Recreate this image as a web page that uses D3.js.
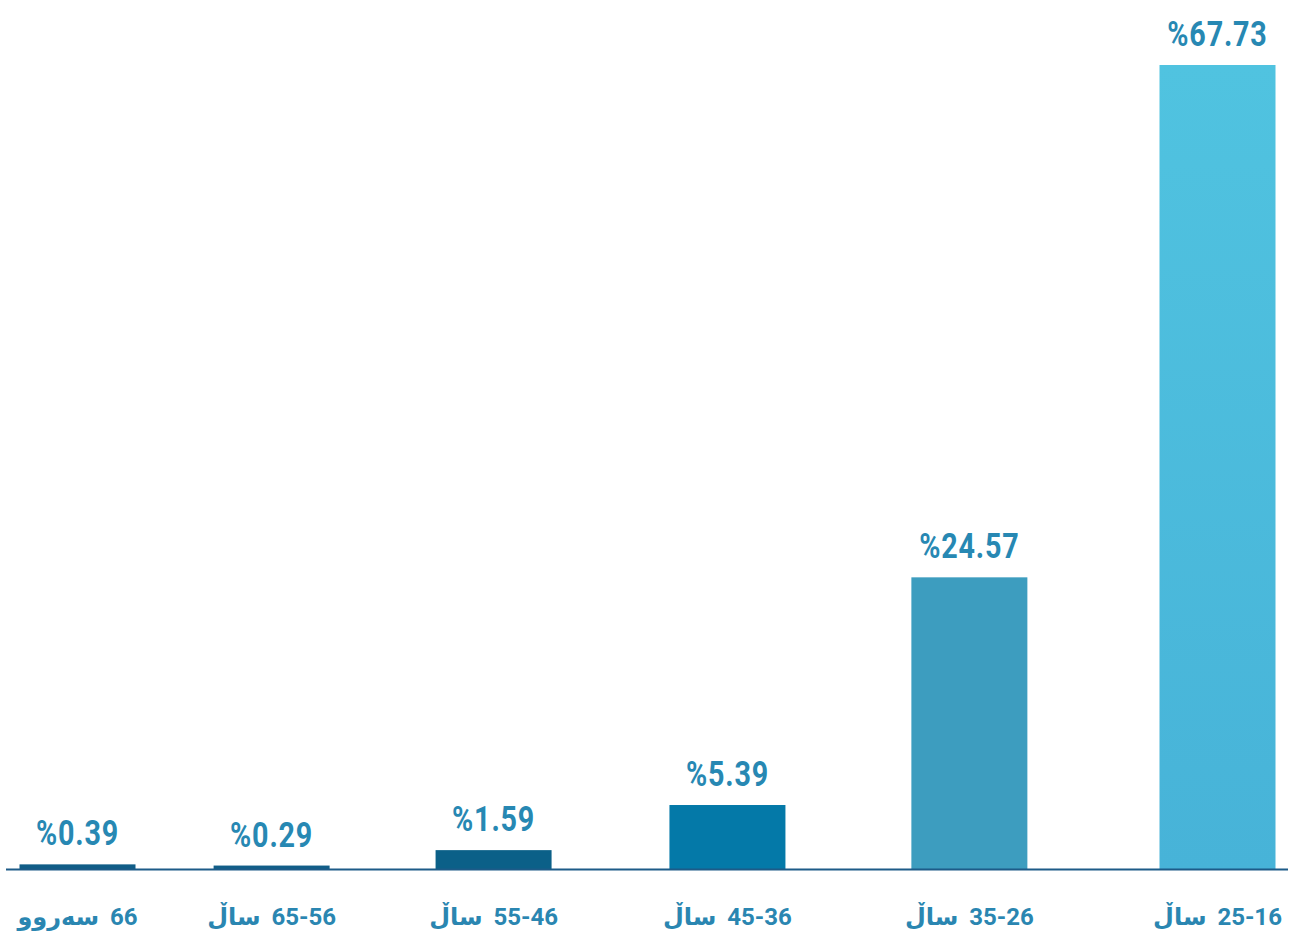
<!DOCTYPE html>
<html>
<head>
<meta charset="utf-8">
<script src="https://cdn.jsdelivr.net/npm/d3@7"></script>
<style>
  body { margin: 0; background: #ffffff; }
  .valueText { font-family: Roboto, "Noto Sans", sans-serif; font-weight: 700; font-size: 35px; fill: #2788b3; letter-spacing: 1px; }
  .catText { font-family: Roboto, "DejaVu Sans", sans-serif; font-weight: 700; font-size: 24px; fill: #2a86b1; }
</style>
</head>
<body>
<div id="chart"></div>
<script>
// categories (right-to-left text), left to right on the chart
var categories = ["66 سەروو", "65-56 ساڵ", "55-46 ساڵ", "45-36 ساڵ", "35-26 ساڵ", "25-16 ساڵ"];
var values = [0.39, 0.29, 1.59, 5.39, 24.57, 67.73];
var valueLabels = ["%0.39", "%0.29", "%1.59", "%5.39", "%24.57", "%67.73"];
var barColors = ["#115d87", "#115e88", "#0b6088", "#0479a8", "#3d9dbf", "#4bbadb"];

var svgWidth = 1290;
var svgHeight = 938;
var baseY = 869;
var barWidth = 116;

var svg = d3.select("#chart")
  .append("svg")
  .attr("width", svgWidth)
  .attr("height", svgHeight);

var defs = svg.append("defs");
var grad = defs.append("linearGradient")
  .attr("id", "lastBar")
  .attr("x1", "0").attr("y1", "0").attr("x2", "0").attr("y2", "1");
grad.append("stop").attr("offset", "0%").attr("stop-color", "#50c3e0");
grad.append("stop").attr("offset", "100%").attr("stop-color", "#47b3d8");

// bar centres: spacing widens a little to the right, like the original layout
var xScale = d3.scalePow()
  .exponent(1.1)
  .domain([0, categories.length - 1])
  .range([77.5, 1217.5]);

// y scale, 67.73 reaches y=65
var yScale = d3.scaleLinear()
  .domain([0, 67.73])
  .range([baseY, 65]);

var rows = categories.map(function(c, i) {
  return { i: i, cat: c, value: values[i], label: valueLabels[i], color: barColors[i] };
});

// bars
svg.selectAll(".bar")
  .data(rows)
  .enter()
  .append("rect")
  .attr("class", "bar")
  .attr("x", d => xScale(d.i) - barWidth / 2)
  .attr("width", barWidth)
  .attr("y", d => yScale(d.value))
  .attr("height", d => baseY - yScale(d.value))
  .attr("fill", (d, i) => i === rows.length - 1 ? "url(#lastBar)" : d.color);

// baseline
svg.append("line")
  .attr("x1", 6)
  .attr("x2", 1288)
  .attr("y1", baseY + 0.5)
  .attr("y2", baseY + 0.5)
  .attr("stroke", "#1d5b88")
  .attr("stroke-width", 2);

// value labels (condensed like the original font)
svg.selectAll(".valueText")
  .data(rows)
  .enter()
  .append("text")
  .attr("class", "valueText")
  .attr("text-anchor", "middle")
  .attr("transform", d => `translate(${xScale(d.i)}, ${yScale(d.value) - 19}) scale(0.82, 1)`)
  .text(d => d.label);

// category labels
svg.selectAll(".catText")
  .data(rows)
  .enter()
  .append("text")
  .attr("class", "catText")
  .attr("text-anchor", "middle")
  .attr("direction", "rtl")
  .attr("x", d => xScale(d.i))
  .attr("y", 925)
  .text(d => d.cat.replace(" ", " \u2009"));
</script>
</body>
</html>
